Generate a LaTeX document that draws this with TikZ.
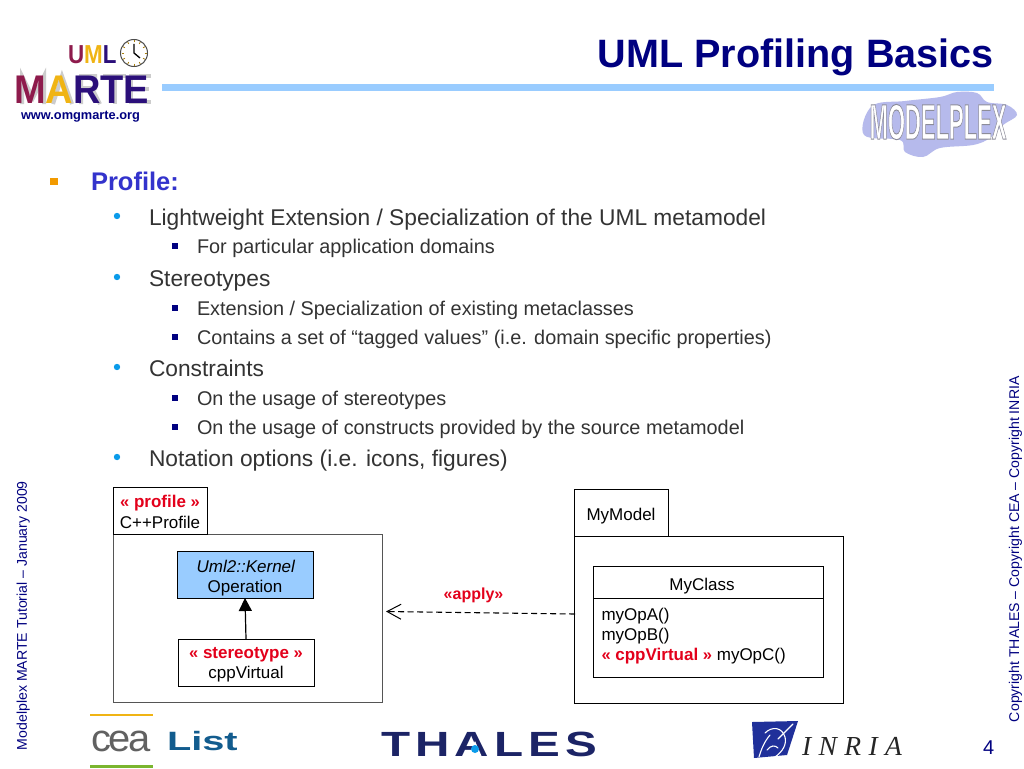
\documentclass[tikz,border=0pt]{standalone}
\usepackage{fontspec}
\setmainfont{Liberation Sans}
\newfontfamily\mplexfont[FakeBold=2]{Liberation Sans Bold}
\newfontfamily\thalesfont[LetterSpace=11]{Liberation Sans Bold}
\newfontfamily\inriafont[LetterSpace=27]{Liberation Serif Italic}
\newfontfamily\ceafont[LetterSpace=-6]{Liberation Sans}
\usetikzlibrary{arrows.meta}
\definecolor{titlenavy}{HTML}{000080}
\definecolor{rulebl}{HTML}{99CCFF}
\definecolor{proftxt}{HTML}{3333CC}
\definecolor{bodytxt}{HTML}{333333}
\definecolor{bullorange}{HTML}{F29A00}
\definecolor{bullcyan}{HTML}{0A9BEA}
\definecolor{stereored}{HTML}{E3001B}
\definecolor{boxgray}{HTML}{555555}
\definecolor{marool}{HTML}{8E1B4C}
\definecolor{mgold}{HTML}{F0B414}
\definecolor{mindigo}{HTML}{2B0F7A}
\definecolor{blobc}{HTML}{B6BAEC}
\definecolor{listblue}{HTML}{125C8E}
\definecolor{thalesc}{HTML}{1C2466}
\definecolor{inriabl}{HTML}{20309A}
\definecolor{ceagreen}{HTML}{7AB52E}
\newcommand\fsz[1]{\fontsize{#1}{#1}\selectfont}
\newcommand\st[1]{{\color{stereored}\textbf{\fsz{16.5}«}\textbf{ #1 }\textbf{\fsz{16.5}»}}}
\tikzset{
  txt/.style={anchor=base west,inner sep=0pt,outer sep=0pt},
  lvla/.style={txt,text=bodytxt,font=\fsz{22.75}},
  lvlb/.style={txt,text=bodytxt,font=\fsz{19.85}},
  umlbox/.style={draw=#1,line width=1pt,inner sep=0pt,outer sep=0pt,anchor=north west,fill=white},
  umlbox/.default=black,
  lbl/.style={anchor=base,inner sep=0pt,outer sep=0pt,font=\fsz{17},text=black},
  sqb/.style={fill=titlenavy},
  dotb/.style={fill=bullcyan},
  mshade/.style={draw=black!20,line width=4pt,line join=miter},
  birdline/.style={draw=white,line width=1.1pt,line cap=round},
}
\begin{document}
\begin{tikzpicture}[x=1pt,y=-1pt]
\useasboundingbox (0,0) rectangle (1024,768);
\fill[white] (0,0) rectangle (1024,768);
% header
\node[anchor=base east,inner sep=0pt,text=titlenavy,font=\fsz{39.6}\bfseries] (title) at (994,67) {UML Profiling Basics};
\fill[rulebl] (162,84) rectangle (994,91);
% MARTE logo
\node[txt,font=\fsz{26}\bfseries] (umlword) at (68,63.5) {\scalebox{0.86}[1]{\color{marool}U\color{mgold}M\color{mindigo}L}};
\draw[black!70,line width=1pt,fill=white] (134,53) circle (13.5);
\foreach \a in {0,30,...,330}{\draw[mgold!70!black,line width=0.8pt] (134,53)++(\a:10.5) -- ++(\a:2);}
\draw[black,line width=1.3pt] (134,44) -- (134,53) -- (140,58);
% shadow of the MARTE letters
\draw[mshade] (22,104)--(22,76)--(33,98)--(44,76)--(44,104);
\draw[mshade] (53,104)--(62,76)--(72,104);
\draw[mshade] (81,104)--(81,76)--(95,76)--(95,88)--(81,88) (92,88)--(100,104);
\draw[mshade] (103,76)--(126,76) (115,76)--(115,104);
\draw[mshade] (151,76)--(131,76)--(131,102)--(151,102) (131,89)--(149,89);
\node[txt,font=\fsz{40}\bfseries] (marte) at (14,103) {\scalebox{0.95}[1]{\color{marool}M\color{mgold}A\color{mindigo}RTE}};
\node[txt,text=titlenavy,font=\fsz{12.8}\bfseries] (www) at (21,119) {www.omgmarte.org};
% MODELPLEX logo
\fill[blobc] plot[smooth cycle,tension=0.6] coordinates {(864,135) (872,106) (905,101) (940,97) (957,92) (977,93) (987,102) (1007,105) (1017,115) (1003,125) (990,138) (973,145) (940,148) (923,157) (905,152) (900,140)};
\node[inner sep=0pt,font=\fsz{50}\mplexfont] (mplex) at (938,122) {\scalebox{0.44}[1]{\color{white}\special{pdf:code 0.55 0.55 0.6 RG}MODELPLEX}};
% bullets
\fill[bullorange] (50,178) rectangle (57.5,185);
\node[txt,text=proftxt,font=\fsz{25.5}\bfseries] (t1) at (91,190) {Profile:};
\fill[dotb] (117,216) circle (3.2);
\node[lvla] (t2) at (149,225) {Lightweight Extension / Specialization of the UML metamodel};
\fill[sqb] (172,243) rectangle (177.5,249);
\node[lvlb] (t3) at (197,253) {For particular application domains};
\fill[dotb] (117,277) circle (3.2);
\node[lvla] (t4) at (149,286) {Stereotypes};
\fill[sqb] (172,305) rectangle (177.5,311);
\node[lvlb] (t5) at (197,315) {Extension / Specialization of existing metaclasses};
\fill[sqb] (172,334) rectangle (177.5,340);
\node[lvlb] (t6) at (197,344) {Contains a set of “tagged values” (i.e. domain specific properties)};
\fill[dotb] (117,367) circle (3.2);
\node[lvla] (t7) at (149,376) {Constraints};
\fill[sqb] (172,395) rectangle (177.5,401);
\node[lvlb] (t8) at (197,405) {On the usage of stereotypes};
\fill[sqb] (172,424) rectangle (177.5,430);
\node[lvlb] (t9) at (197,434) {On the usage of constructs provided by the source metamodel};
\fill[dotb] (117,457) circle (3.2);
\node[lvla] (t10) at (149,466) {Notation options (i.e. icons, figures)};
% profile package
\node[umlbox=boxgray,minimum width=269pt,minimum height=168pt] (profbody) at (113,534) {};
\node[umlbox=black,minimum width=94pt,minimum height=47pt] (proftab) at (113,487) {};
\node[lbl] (proflab) at (160,507) {\st{profile}};
\node[lbl] (profname) at (160,528) {C++Profile};
\node[umlbox=black,fill=rulebl,minimum width=136pt,minimum height=47pt] (opbox) at (177,551) {};
\node[lbl] (opa) at (246,572) {\textit{Uml2::Kernel}};
\node[lbl] (opb) at (245,592) {Operation};
\node[umlbox=black,minimum width=136pt,minimum height=47pt] (sterbox) at (178,639) {};
\node[lbl] (stera) at (246,658) {\st{stereotype}};
\node[lbl] (sterb) at (246,678) {cppVirtual};
\draw[line width=1.2pt,-{Triangle[length=13pt,width=13pt]}] (sterbox.north) -- (opbox.south);
% model package
\node[umlbox=black,minimum width=269pt,minimum height=167pt] (modbody) at (574.5,536) {};
\node[umlbox=black,minimum width=94pt,minimum height=47pt] (modtab) at (574.5,489) {};
\node[lbl] (modname) at (621,520) {MyModel};
\node[umlbox=black,minimum width=230pt,minimum height=32pt] (clshead) at (593,566) {};
\node[umlbox=black,minimum width=230pt,minimum height=79pt] (clsbody) at (593,598) {};
\node[lbl] (clsname) at (702,590) {MyClass};
\node[lbl,anchor=base west] (opA) at (601.5,620) {myOpA()};
\node[lbl,anchor=base west] (opB) at (601.5,640) {myOpB()};
\node[lbl,anchor=base west] (opC) at (601.5,660) {\st{cppVirtual} myOpC()};
% apply
\coordinate (applyfrom) at (575,614);
\coordinate (applyto) at (386,611.5);
\draw[line width=1.1pt,dash pattern=on 6pt off 3.5pt,-{Straight Barb[length=14pt,width=15pt,line width=1pt]}] (applyfrom) -- (applyto);
\node[lbl,font=\fsz{16}\bfseries,text=stereored] (applylab) at (473.5,599) {«apply»};
% side texts
\node[txt,rotate=90,text=titlenavy,font=\fsz{14.1}] (lefttxt) at (27,750) {Modelplex MARTE Tutorial – January 2009};
\node[txt,rotate=90,text=titlenavy,font=\fsz{14.1}] (righttxt) at (1019,722) {Copyright THALES – Copyright CEA – Copyright INRIA};
\node[txt,text=titlenavy,font=\fsz{20}] (pagenum) at (983,754) {4};
% bottom logos
\fill[mgold] (90,714) rectangle (153,716);
\fill[ceagreen] (90,765) rectangle (153,768);
\node[txt,text=black!62,font=\fsz{38}\ceafont] (cea) at (91,751) {\scalebox{1.05}[1]{cea}};
\node[txt,text=listblue,font=\fsz{26.5}\bfseries] (list) at (167,750) {\scalebox{1.5}[1]{List}};
\node[txt,text=thalesc,font=\fsz{35}\thalesfont] (thales) at (381,756) {\scalebox{1.36}[1]{THALES}};
\fill[white] (468,757) -- (482,757) -- (475,741) -- cycle;
\fill[bullcyan] (475,749) circle (4);
\fill[inriabl] (752,722) -- (798,721) -- (787,755) -- (754,758) -- cycle;
\draw[birdline] (765,733) .. controls (772,726) and (782,727) .. (785,737) .. controls (787,745) and (782,752) .. (775,757);
\draw[birdline] (778,739) -- (793,724);
\draw[birdline] (770,735) .. controls (764,742) and (761,750) .. (759,757);
\draw[birdline] (767,750) .. controls (771,745) and (775,745) .. (778,748);
\node[txt,text=black!85,font=\fsz{27.5}\inriafont] (inria) at (802,755) {INRIA};
\end{tikzpicture}
\end{document}
